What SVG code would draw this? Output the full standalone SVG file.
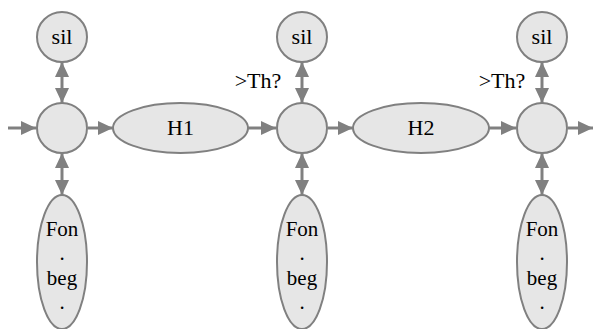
<svg xmlns="http://www.w3.org/2000/svg" width="594" height="329" viewBox="0 0 594 329">
  <style>
    .n { fill: #e6e6e6; stroke: #808080; stroke-width: 2; }
    .t, .f { fill: #000; text-anchor: middle; }
    .t { font-size: 22px; }
    .f { font-size: 21px; }
    .e { stroke: #808080; stroke-width: 3; fill: none; }
  </style>
  <defs>
    <marker id="ah" viewBox="0 0 15 14" refX="15" refY="7" markerWidth="15" markerHeight="14" markerUnits="userSpaceOnUse" orient="auto-start-reverse">
      <path d="M0,0 L15,7 L0,14 Z" fill="#808080"/>
    </marker>
  </defs>

  <g id="edges">
    <!-- horizontal chain -->
    <line class="e" x1="8" y1="128" x2="36" y2="128" marker-end="url(#ah)"/>
    <line class="e" x1="88" y1="128" x2="113" y2="128" marker-end="url(#ah)"/>
    <line class="e" x1="248" y1="128" x2="276" y2="128" marker-end="url(#ah)"/>
    <line class="e" x1="328" y1="128" x2="353" y2="128" marker-end="url(#ah)"/>
    <line class="e" x1="489" y1="128" x2="516" y2="128" marker-end="url(#ah)"/>
    <line class="e" x1="568" y1="128" x2="593" y2="128" marker-end="url(#ah)"/>
    <!-- junction to sil -->
    <line class="e" x1="62" y1="62" x2="62" y2="103" marker-start="url(#ah)" marker-end="url(#ah)"/>
    <line class="e" x1="302" y1="62" x2="302" y2="103" marker-start="url(#ah)" marker-end="url(#ah)"/>
    <line class="e" x1="542" y1="62" x2="542" y2="103" marker-start="url(#ah)" marker-end="url(#ah)"/>
    <!-- junction to Fon -->
    <line class="e" x1="62" y1="153" x2="62" y2="195" marker-start="url(#ah)" marker-end="url(#ah)"/>
    <line class="e" x1="302" y1="153" x2="302" y2="195" marker-start="url(#ah)" marker-end="url(#ah)"/>
    <line class="e" x1="542" y1="153" x2="542" y2="195" marker-start="url(#ah)" marker-end="url(#ah)"/>
  </g>

  <g font-family="Liberation Serif, serif">
    <!-- threshold labels -->
    <text class="t" x="258" y="88">&gt;Th?</text>
    <text class="t" x="502" y="88">&gt;Th?</text>

    <g id="sil1"><circle class="n" cx="62" cy="37" r="25"/><text class="t" x="62" y="44">sil</text></g>
    <g id="sil2"><circle class="n" cx="302" cy="37" r="25"/><text class="t" x="302" y="44">sil</text></g>
    <g id="sil3"><circle class="n" cx="542" cy="37" r="25"/><text class="t" x="542" y="44">sil</text></g>

    <g id="j1"><circle class="n" cx="62" cy="128" r="25"/></g>
    <g id="j2"><circle class="n" cx="302" cy="128" r="25"/></g>
    <g id="j3"><circle class="n" cx="542" cy="128" r="25"/></g>

    <g id="h1"><ellipse class="n" cx="180.5" cy="128" rx="67.5" ry="25"/><text class="t" x="180.5" y="135">H1</text></g>
    <g id="h2"><ellipse class="n" cx="421" cy="128" rx="68" ry="25"/><text class="t" x="421" y="135">H2</text></g>

    <g id="fon1">
      <ellipse class="n" cx="62" cy="262" rx="25" ry="67"/>
      <text class="f" x="62" y="236">Fon</text><text class="f" x="62" y="260">.</text>
      <text class="f" x="62" y="285">beg</text><text class="f" x="62" y="309">.</text>
    </g>
    <g id="fon2">
      <ellipse class="n" cx="302" cy="262" rx="25" ry="67"/>
      <text class="f" x="302" y="236">Fon</text><text class="f" x="302" y="260">.</text>
      <text class="f" x="302" y="285">beg</text><text class="f" x="302" y="309">.</text>
    </g>
    <g id="fon3">
      <ellipse class="n" cx="542" cy="262" rx="25" ry="67"/>
      <text class="f" x="542" y="236">Fon</text><text class="f" x="542" y="260">.</text>
      <text class="f" x="542" y="285">beg</text><text class="f" x="542" y="309">.</text>
    </g>
  </g>
</svg>
